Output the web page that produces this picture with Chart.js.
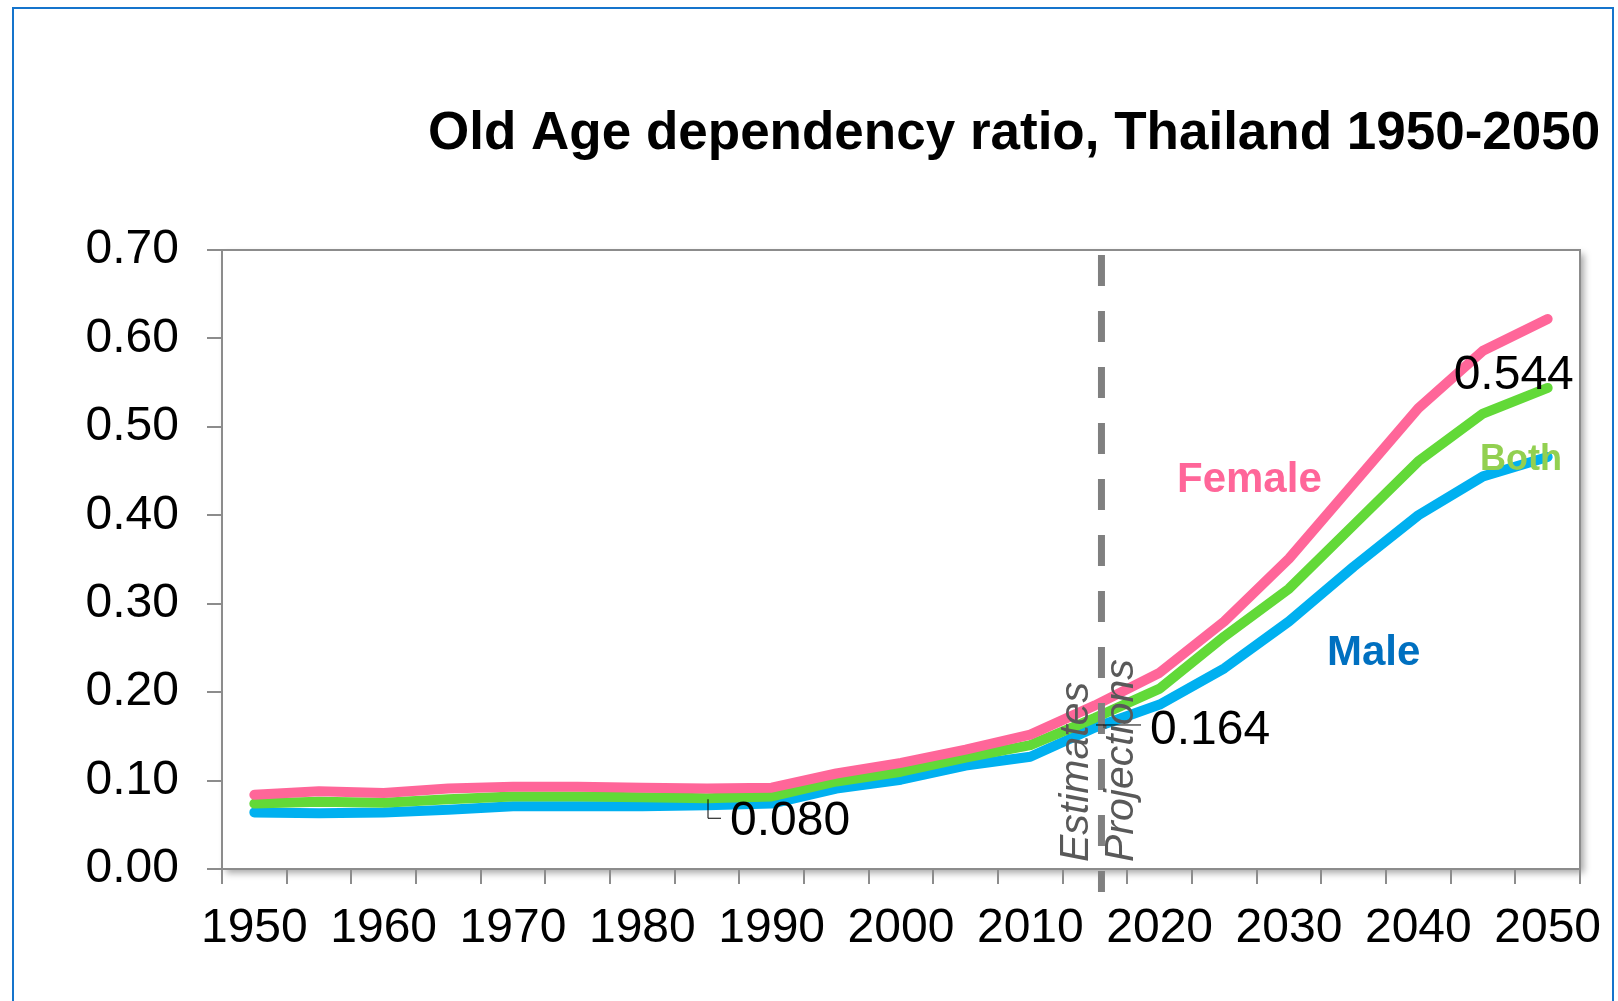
<!DOCTYPE html>
<html>
<head>
<meta charset="utf-8">
<title>Old Age dependency ratio, Thailand 1950-2050</title>
<script src="https://cdn.jsdelivr.net/npm/chart.js@4.4.0/dist/chart.umd.min.js"></script>
<style>
  html, body { margin: 0; padding: 0; background: #fff; }
  #frame { position: absolute; left: 12px; top: 7px; width: 1602px; height: 1100px; border: 2px solid #1574cc; box-sizing: border-box; }
  #wrap { position: absolute; left: 0; top: 0; width: 1618px; height: 1001px; }
</style>
</head>
<body>
<div id="frame"></div>
<div id="wrap"><canvas id="ratioChart" width="1618" height="1001"></canvas></div>
<script>
// Data
const years = [1950, 1955, 1960, 1965, 1970, 1975, 1980, 1985, 1990, 1995, 2000,
               2005, 2010, 2015, 2020, 2025, 2030, 2035, 2040, 2045, 2050];
const female = [0.084, 0.088, 0.086, 0.091, 0.093, 0.093, 0.092, 0.091, 0.092, 0.108, 0.120,
                0.135, 0.152, 0.185, 0.222, 0.280, 0.351, 0.436, 0.521, 0.586, 0.622];
const both = [0.074, 0.076, 0.075, 0.079, 0.082, 0.082, 0.081, 0.080, 0.082, 0.099, 0.110,
              0.126, 0.140, 0.171, 0.204, 0.263, 0.317, 0.389, 0.461, 0.515, 0.544];
const male = [0.064, 0.063, 0.064, 0.067, 0.071, 0.071, 0.071, 0.072, 0.074, 0.091, 0.101,
              0.117, 0.127, 0.160, 0.186, 0.227, 0.280, 0.342, 0.400, 0.444, 0.466];
const yTicks = [0, 0.1, 0.2, 0.3, 0.4, 0.5, 0.6, 0.7];

// Data labels shown on the chart (category index, value)
const tagIndex = [7, 13, 20];
const tagValue = [0.080, 0.164, 0.544];

const axisColor = '#8c8c8c';
const fontFamily = '"Liberation Sans", Arial, sans-serif';
Chart.defaults.font.family = fontFamily;

// White plot area with a soft shadow and a thin frame
const plotFrame = {
    id: 'plotFrame',
    beforeDraw(chart) {
        const { ctx, chartArea: a } = chart;
        ctx.save();
        ctx.shadowColor = 'rgba(0,0,0,0.35)';
        ctx.shadowBlur = 7;
        ctx.shadowOffsetX = 4;
        ctx.shadowOffsetY = 4;
        ctx.fillStyle = '#fff';
        ctx.fillRect(a.left, a.top, a.right - a.left, a.bottom - a.top);
        ctx.restore();
        ctx.save();
        ctx.strokeStyle = axisColor;
        ctx.lineWidth = 2;
        ctx.strokeRect(a.left, a.top, a.right - a.left, a.bottom - a.top);
        ctx.restore();
    }
};

// Estimates / Projections split line
const splitLine = {
    id: 'splitLine',
    afterDatasetsDraw(chart) {
        const { ctx, chartArea: a, scales: { x } } = chart;
        const step = x.getPixelForValue(1) - x.getPixelForValue(0);
        const px = x.getPixelForValue(13) + 0.1 * step;
        ctx.save();
        ctx.strokeStyle = '#808080';
        ctx.lineWidth = 7;
        ctx.setLineDash([31, 25]);
        ctx.beginPath();
        ctx.moveTo(px, a.top + 5);
        ctx.lineTo(px, a.bottom + 23);
        ctx.stroke();
        ctx.setLineDash([]);

        ctx.fillStyle = '#595959';
        ctx.font = 'italic 41px ' + fontFamily;
        ctx.textAlign = 'left';
        ctx.textBaseline = 'alphabetic';
        ctx.save();
        ctx.translate(px - 13, a.bottom - 7);
        ctx.rotate(-Math.PI / 2);
        ctx.fillText('Estimates', 0, 0);
        ctx.restore();
        ctx.save();
        ctx.translate(px + 32, a.bottom - 7);
        ctx.rotate(-Math.PI / 2);
        ctx.fillText('Projections', 0, 0);
        ctx.restore();
        ctx.restore();
    }
};

// Value tags, series names and title
const textLayer = {
    id: 'textLayer',
    afterDraw(chart) {
        const { ctx, scales: { x, y } } = chart;
        ctx.save();
        ctx.textAlign = 'left';
        ctx.textBaseline = 'alphabetic';

        // value tags
        ctx.font = '48px ' + fontFamily;
        ctx.fillStyle = '#000';
        ctx.strokeStyle = '#000';
        ctx.lineWidth = 1;
        const p0 = { x: x.getPixelForValue(tagIndex[0]), y: y.getPixelForValue(tagValue[0]) };
        ctx.beginPath();
        ctx.moveTo(p0.x + 1, p0.y + 1);
        ctx.lineTo(p0.x + 1, p0.y + 20);
        ctx.lineTo(p0.x + 14, p0.y + 20);
        ctx.stroke();
        ctx.fillText(tagValue[0].toFixed(3), p0.x + 23, p0.y + 37);

        const p1 = { x: x.getPixelForValue(tagIndex[1]), y: y.getPixelForValue(tagValue[1]) };
        ctx.beginPath();
        ctx.moveTo(p1.x + 1, p1.y + 1);
        ctx.lineTo(p1.x + 46, p1.y + 1);
        ctx.stroke();
        ctx.fillText(tagValue[1].toFixed(3), p1.x + 55, p1.y + 20);

        const p2 = { x: x.getPixelForValue(tagIndex[2]), y: y.getPixelForValue(tagValue[2]) };
        ctx.fillText(tagValue[2].toFixed(3), p2.x - 94, p2.y + 1);

        // series names
        ctx.font = 'bold 42px ' + fontFamily;
        ctx.fillStyle = '#FF6699';
        ctx.fillText('Female', 1177, 492);
        ctx.fillStyle = '#0070C0';
        ctx.fillText('Male', 1327, 665);
        ctx.font = 'bold 36px ' + fontFamily;
        ctx.fillStyle = '#92D050';
        ctx.fillText('Both', 1480, 470);

        // title
        ctx.font = 'bold 53px ' + fontFamily;
        ctx.fillStyle = '#000';
        ctx.fillText('Old Age dependency ratio, Thailand 1950-2050', 428, 149);
        ctx.restore();
    }
};

function lineSet(label, values, color) {
    return {
        label: label,
        data: values,
        borderColor: color,
        backgroundColor: color,
        borderWidth: 10,
        pointRadius: 0,
        tension: 0,
        borderCapStyle: 'round',
        borderJoinStyle: 'round',
        fill: false
    };
}

document.addEventListener('DOMContentLoaded', function() {
    const ctx = document.getElementById('ratioChart').getContext('2d');
    new Chart(ctx, {
        type: 'line',
        data: {
            labels: years,
            datasets: [
                lineSet('Female', female, '#FF6699'),
                lineSet('Both', both, '#62D938'),
                lineSet('Male', male, '#00B0F0')
            ]
        },
        options: {
            responsive: false,
            animation: false,
            layout: { padding: { top: 250, right: 38, left: 0, bottom: 0 } },
            plugins: {
                legend: { display: false },
                tooltip: { enabled: false },
                title: { display: false }
            },
            scales: {
                x: {
                    offset: true,
                    grid: { offset: true, drawOnChartArea: false, color: axisColor, lineWidth: 2, tickLength: 15 },
                    border: { color: axisColor, width: 2 },
                    ticks: {
                        autoSkip: false,
                        maxRotation: 0,
                        minRotation: 0,
                        padding: 16,
                        color: '#000',
                        font: { size: 48 },
                        callback: (v, i) => (i % 2 === 0 ? String(years[i]) : '')
                    },
                    afterFit: s => { s.height = 132; }
                },
                y: {
                    min: yTicks[0],
                    max: yTicks[yTicks.length - 1],
                    afterBuildTicks: s => { s.ticks = yTicks.map(v => ({ value: v })); },
                    grid: { drawOnChartArea: false, color: axisColor, lineWidth: 2, tickLength: 15 },
                    border: { color: axisColor, width: 2 },
                    ticks: {
                        padding: 28,
                        color: '#000',
                        font: { size: 48 },
                        callback: v => Number(v).toFixed(2)
                    },
                    afterFit: s => { s.width = 222; }
                }
            }
        },
        plugins: [plotFrame, splitLine, textLayer]
    });
});
</script>
</body>
</html>
